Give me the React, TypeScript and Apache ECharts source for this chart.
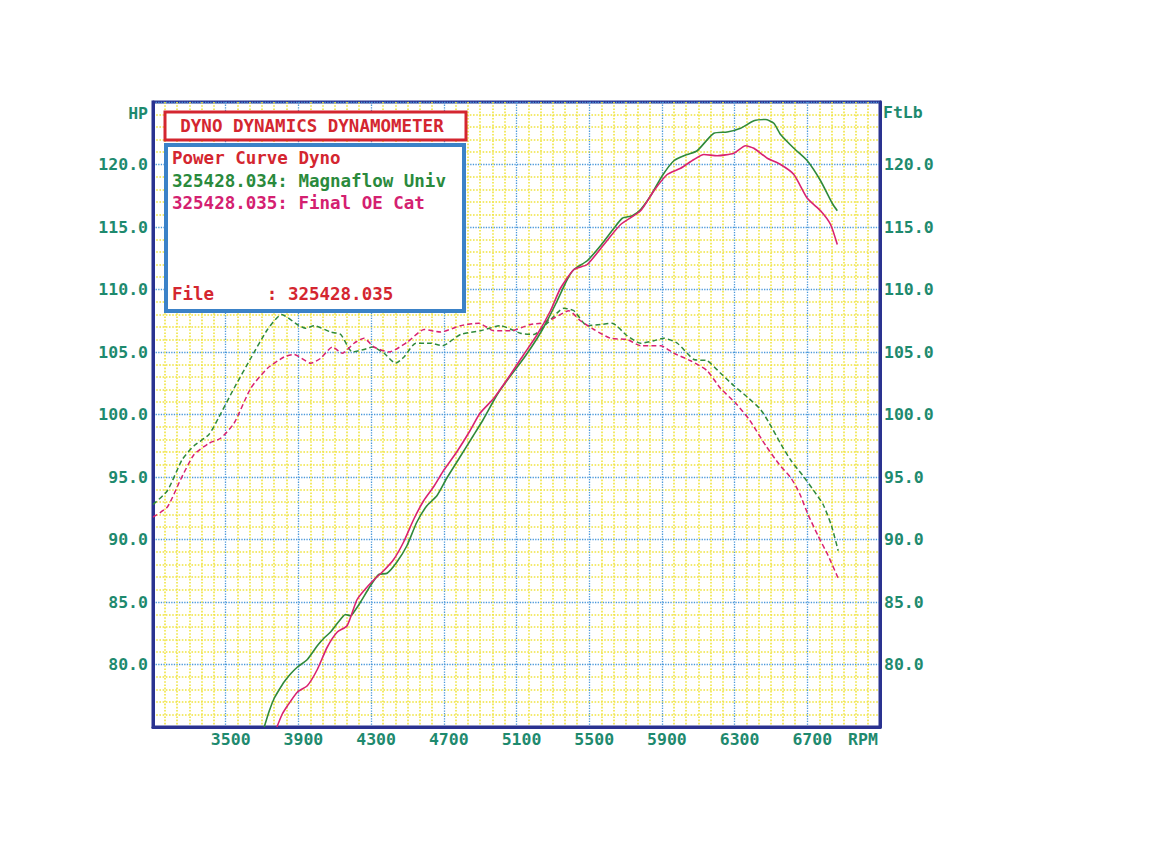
import React, { useEffect, useRef } from "react";
import * as echarts from "echarts";

// Dyno readings: [rpm, value]
const magnaflowPower: [number, number][] = [
  [3712, 75.0], [3740, 76.3], [3767, 77.3], [3795, 78.0], [3821, 78.6], [3860, 79.3], [3895, 79.8],
  [3949, 80.4], [4004, 81.5], [4040, 82.1], [4077, 82.6], [4120, 83.4], [4159, 84.0], [4187, 83.9],
  [4215, 84.4], [4242, 85.0], [4296, 86.3], [4342, 87.2], [4388, 87.3], [4442, 88.2], [4497, 89.5],
  [4552, 91.4], [4607, 92.7], [4662, 93.5], [4716, 94.9], [4789, 96.6], [4862, 98.3], [4917, 99.6],
  [4994, 101.6], [5067, 103.1], [5140, 104.5], [5214, 106.1], [5269, 107.5], [5324, 109.1],
  [5379, 110.8], [5416, 111.6], [5489, 112.3], [5562, 113.5], [5636, 114.9], [5682, 115.7],
  [5737, 115.9], [5783, 116.4], [5838, 117.5], [5902, 119.1], [5966, 120.3], [6039, 120.8],
  [6094, 121.1], [6186, 122.5], [6259, 122.6], [6333, 122.9], [6406, 123.5], [6470, 123.6],
  [6516, 123.3], [6553, 122.4], [6626, 121.3], [6700, 120.3], [6773, 118.7], [6837, 116.9], [6865, 116.3],
];

const finalOePower: [number, number][] = [
  [3782, 75.0], [3810, 76.0], [3840, 76.7], [3895, 77.8], [3949, 78.3], [4004, 79.6], [4059, 81.4],
  [4114, 82.6], [4168, 83.1], [4223, 85.2], [4278, 86.2], [4324, 86.9], [4369, 87.5], [4424, 88.4],
  [4479, 89.8], [4534, 91.6], [4589, 93.1], [4643, 94.2], [4698, 95.5], [4771, 97.0], [4844, 98.7],
  [4899, 100.1], [4975, 101.3], [5067, 103.2], [5140, 104.8], [5214, 106.4], [5287, 108.3],
  [5342, 110.1], [5416, 111.6], [5489, 112.0], [5581, 113.6], [5673, 115.2], [5783, 116.3],
  [5856, 117.9], [5929, 119.2], [6003, 119.7], [6076, 120.4], [6131, 120.8], [6204, 120.7],
  [6296, 120.9], [6360, 121.5], [6406, 121.3], [6480, 120.5], [6553, 120.0], [6626, 119.2],
  [6700, 117.3], [6773, 116.3], [6828, 115.2], [6865, 113.6],
];

const magnaflowTorque: [number, number][] = [
  [3100, 92.8], [3179, 93.9], [3261, 96.4], [3326, 97.5], [3408, 98.4], [3463, 99.8], [3546, 102.1],
  [3638, 104.5], [3730, 106.8], [3808, 108.0], [3894, 107.2], [3940, 106.9], [3986, 107.1],
  [4078, 106.6], [4133, 106.4], [4197, 105.0], [4261, 105.2], [4307, 105.4], [4371, 104.9],
  [4435, 104.1], [4481, 104.6], [4546, 105.7], [4628, 105.7], [4692, 105.5], [4792, 106.4],
  [4902, 106.7], [5012, 107.1], [5122, 106.5], [5195, 106.4], [5269, 107.3], [5360, 108.5],
  [5416, 108.3], [5489, 107.1], [5562, 107.2], [5626, 107.3], [5709, 106.3], [5783, 105.7],
  [5856, 105.9], [5911, 106.1], [5985, 105.7], [6076, 104.4], [6149, 104.3], [6223, 103.3],
  [6296, 102.3], [6370, 101.4], [6443, 100.4], [6491, 99.3], [6556, 97.6], [6611, 96.3],
  [6676, 95.1], [6731, 94.0], [6787, 92.8], [6833, 91.1], [6870, 89.1],
];

const finalOeTorque: [number, number][] = [
  [3100, 91.8], [3179, 92.6], [3252, 94.8], [3326, 96.8], [3408, 97.7], [3472, 98.1], [3546, 99.3],
  [3638, 102.1], [3730, 103.7], [3821, 104.6], [3876, 104.8], [3968, 104.1], [4023, 104.5],
  [4087, 105.4], [4142, 104.9], [4206, 105.7], [4261, 106.1], [4316, 105.4], [4399, 105.0],
  [4500, 105.8], [4592, 106.8], [4682, 106.6], [4792, 107.1], [4893, 107.3], [4975, 106.7],
  [5067, 106.7], [5177, 107.2], [5232, 107.3], [5305, 107.7], [5388, 108.3], [5452, 107.5],
  [5526, 106.8], [5617, 106.1], [5709, 106.0], [5783, 105.5], [5893, 105.5], [5966, 104.9],
  [6058, 104.3], [6149, 103.5], [6222, 102.1], [6306, 100.9], [6380, 99.6], [6472, 97.5],
  [6546, 96.0], [6611, 94.9], [6657, 93.7], [6704, 92.0], [6759, 90.3], [6815, 88.7], [6870, 86.9],
];

const rpmMin = 3100;
const rpmMax = 7100;
const rpmStep = 400;
const valMin = 75;
const valMax = 125;
const valStep = 5;

const titleText = "DYNO DYNAMICS DYNAMOMETER";
const legendLines = [
  { text: "Power Curve Dyno", color: "#d42630" },
  { text: "325428.034: Magnaflow Univ", color: "#2a8a3c" },
  { text: "325428.035: Final OE Cat", color: "#d42070" },
];
const fileLine = "File     : 325428.035";

const GREEN = "#2f8a3a";
const MAGENTA = "#da2270";
const NAVY = "#2a3290";
const TEAL = "#1e8a6e";
const MONO = "'DejaVu Sans Mono', 'Liberation Mono', monospace";

export default function App() {
  const ref = useRef<HTMLDivElement>(null);
  useEffect(() => {
    document.body.style.margin = "0";
    if (!ref.current) return;
    const chart = echarts.init(ref.current, null, { renderer: "svg" });
    const labelStyle = { color: TEAL, fontFamily: MONO, fontWeight: "bold" as const, fontSize: 16.5 };
    const majorLine = { show: true, lineStyle: { color: "#4a98da", width: 1.3, type: "dotted" as const } };
    const minorLine = { show: true, lineStyle: { color: "#f0e440", width: 1.6, type: "dotted" as const } };
    const axisLine = { show: true, lineStyle: { color: NAVY, width: 3 } };
    const textFont = `bold 17.5px ${MONO}`;

    chart.setOption({
      animation: false,
      backgroundColor: "#ffffff",
      grid: {
        left: 153,
        right: 290,
        top: 102,
        bottom: 123,
        show: true,
        backgroundColor: "#ffffff",
        borderColor: NAVY,
        borderWidth: 3,
      },
      xAxis: {
        type: "value",
        min: rpmMin,
        max: rpmMax,
        interval: rpmStep,
        axisLine,
        axisTick: { show: false },
        minorTick: { show: false, splitNumber: 6 },
        splitLine: majorLine,
        minorSplitLine: minorLine,
        axisLabel: {
          ...labelStyle,
          margin: 4,
          padding: [0, 0, 0, 10],
          showMinLabel: true,
          showMaxLabel: true,
          formatter: (v: number) => (v === rpmMin ? "" : v === rpmMax ? "{r|RPM}" : String(v)),
          rich: { r: { ...labelStyle, padding: [0, 44, 0, 0] } },
        },
      },
      yAxis: [
        {
          type: "value",
          min: valMin,
          max: valMax,
          interval: valStep,
          position: "left",
          name: "HP",
          nameLocation: "end",
          nameGap: -11,
          nameTextStyle: { ...labelStyle, align: "right", verticalAlign: "middle", padding: [0, 5, 0, 0] },
          axisLine,
          axisTick: { show: false },
          minorTick: { show: false, splitNumber: 5 },
          splitLine: majorLine,
          minorSplitLine: minorLine,
          axisLabel: {
            ...labelStyle,
            margin: 5,
            formatter: (v: number) => (v === valMin || v === valMax ? "" : v.toFixed(1)),
          },
        },
        {
          type: "value",
          min: valMin,
          max: valMax,
          interval: valStep,
          position: "right",
          name: "FtLb",
          nameLocation: "end",
          nameGap: -10,
          nameTextStyle: { ...labelStyle, align: "left", verticalAlign: "middle", padding: [0, 0, 0, 3] },
          axisLine,
          axisTick: { show: false },
          splitLine: { show: false },
          axisLabel: {
            ...labelStyle,
            margin: 4,
            formatter: (v: number) => (v === valMin || v === valMax ? "" : v.toFixed(1)),
          },
        },
      ],
      series: [
        {
          name: "Magnaflow Univ torque",
          type: "line",
          data: magnaflowTorque,
          showSymbol: false,
          smooth: 0.2,
          clip: true,
          lineStyle: { color: GREEN, width: 1.5, type: [5, 3] },
          z: 3,
        },
        {
          name: "Final OE Cat torque",
          type: "line",
          data: finalOeTorque,
          showSymbol: false,
          smooth: 0.2,
          clip: true,
          lineStyle: { color: MAGENTA, width: 1.5, type: [5, 3] },
          z: 3,
        },
        {
          name: "Magnaflow Univ power",
          type: "line",
          data: magnaflowPower,
          showSymbol: false,
          smooth: 0.2,
          clip: true,
          lineStyle: { color: GREEN, width: 1.6 },
          z: 4,
        },
        {
          name: "Final OE Cat power",
          type: "line",
          data: finalOePower,
          showSymbol: false,
          smooth: 0.2,
          clip: true,
          lineStyle: { color: MAGENTA, width: 1.6 },
          z: 4,
        },
      ],
      graphic: [
        {
          type: "rect",
          z: 100,
          shape: { x: 165, y: 112, width: 301, height: 28 },
          style: { fill: "#ffffff", stroke: "#d42630", lineWidth: 3 },
        },
        {
          type: "text",
          z: 101,
          x: 312,
          y: 126,
          style: {
            text: titleText,
            fill: "#d42630",
            font: textFont,
            align: "center",
            verticalAlign: "middle",
          },
        },
        {
          type: "rect",
          z: 100,
          shape: { x: 166, y: 145, width: 298, height: 166 },
          style: { fill: "#ffffff", stroke: "#3b82c8", lineWidth: 4 },
        },
        ...legendLines.map((l, i) => ({
          type: "text",
          z: 101,
          x: 172,
          y: 158 + i * 22.5,
          style: {
            text: l.text,
            fill: l.color,
            font: textFont,
            align: "left",
            verticalAlign: "middle",
          },
        })),
        {
          type: "text",
          z: 101,
          x: 172,
          y: 294,
          style: {
            text: fileLine,
            fill: "#d42630",
            font: textFont,
            align: "left",
            verticalAlign: "middle",
          },
        },
      ],
    });
    return () => chart.dispose();
  }, []);
  return <div ref={ref} style={{ width: 1170, height: 850 }} />;
}
